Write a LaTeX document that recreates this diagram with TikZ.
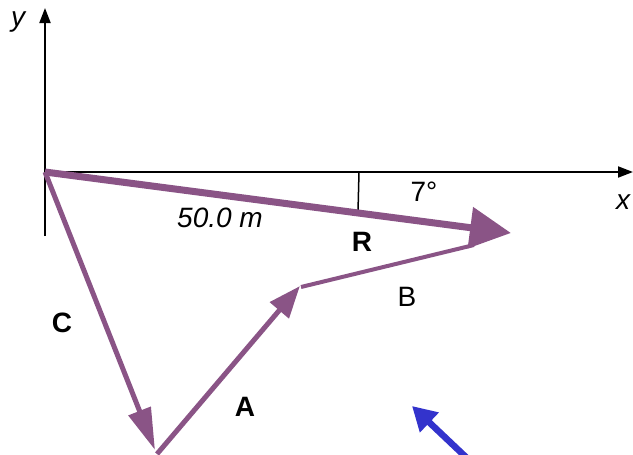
\documentclass[tikz,border=0pt]{standalone}
\usepackage{fontspec}
\setmainfont{Liberation Sans}
\usetikzlibrary{arrows.meta}
\definecolor{vecpurple}{RGB}{138,84,134}
\definecolor{dirblue}{RGB}{51,51,204}

\begin{document}
\begin{tikzpicture}[x=1pt,y=-1pt,font=\fontsize{28}{32}\selectfont,
  axis/.style={line width=2pt,-{Triangle[length=15pt,width=11pt]}},
  vec/.style={vecpurple,line width=5pt},
  lbl/.style={inner sep=0pt}]
            \useasboundingbox (0,0) rectangle (633,455);
            \coordinate (O) at (45,172);
            \coordinate (ytop) at (45,8);
            \coordinate (ybot) at (45,236);
            \coordinate (xend) at (633,172);
            \coordinate (Cend) at (155,450);
            \coordinate (Abeg) at (157,454);
            \coordinate (Aend) at (300,286);
            \coordinate (Bbeg) at (301,287);
            \coordinate (Bend) at (474,245);
            \coordinate (Rend) at (511,233);
            \coordinate (mtop) at (359,172);
            \coordinate (mbot) at (358,212);
            \coordinate (blue1) at (470,461);
            \coordinate (blue2) at (412,406);
            \draw[line width=2pt] (ybot) -- (O);
            \draw[axis] (O) -- (ytop);
            \draw[axis] (O) -- (xend);
            \draw[line width=1.5pt] (mtop) -- (mbot);
            \draw[vec,line width=4pt] (Bbeg) -- (Bend);
            \draw[vec,-{Triangle[length=42pt,width=23pt]}] (O) -- (Cend);
            \draw[vec,-{Triangle[length=32pt,width=24pt]}] (Abeg) -- (Aend);
            \draw[vec,line width=7pt,-{Triangle[length=41pt,width=40pt]}] (O) -- (Rend);
            \draw[dirblue,line width=6.5pt,-{Triangle[length=24pt,width=26pt]}] (blue1) -- (blue2);
            \node[lbl,font=\fontsize{28}{32}\selectfont\itshape] (ylab) at (18,22) {y};
            \node[lbl,font=\fontsize{28}{32}\selectfont\itshape] (xlab) at (623,202) {x};
            \node[lbl] (angle) at (424,192) {7°};
            \node[lbl,font=\fontsize{28}{32}\selectfont\itshape] (mag) at (220,218) {50.0 m};
            \node[lbl,font=\fontsize{28}{32}\selectfont\bfseries] (Rlab) at (362,242) {R};
            \node[lbl] (Blab) at (407,297) {B};
            \node[lbl,font=\fontsize{28}{32}\selectfont\bfseries] (Alab) at (245,407) {A};
            \node[lbl,font=\fontsize{28}{32}\selectfont\bfseries] (Clab) at (62,323) {C};
          \end{tikzpicture}
\end{document}
